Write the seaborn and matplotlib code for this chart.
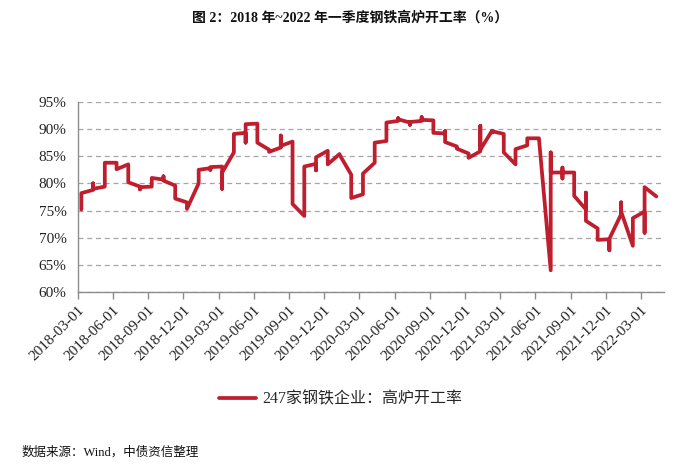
import matplotlib
matplotlib.use("Agg")
import matplotlib.pyplot as plt
import matplotlib.transforms as mtransforms
from matplotlib.lines import Line2D
import seaborn as sns
import pandas as pd

months = [
    "2018-03", "2018-04", "2018-05", "2018-06", "2018-07", "2018-08", "2018-09",
    "2018-10", "2018-11", "2018-12", "2019-01", "2019-02", "2019-03", "2019-04",
    "2019-05", "2019-06", "2019-07", "2019-08", "2019-09", "2019-10", "2019-11",
    "2019-12", "2020-01", "2020-02", "2020-03", "2020-04", "2020-05", "2020-06",
    "2020-07", "2020-08", "2020-09", "2020-10", "2020-11", "2020-12", "2021-01",
    "2021-02", "2021-03", "2021-04", "2021-05", "2021-06", "2021-07", "2021-08",
    "2021-09", "2021-10", "2021-11", "2021-12", "2022-01", "2022-02", "2022-03",
    "2022-04",
]
month_values = [
    [75.2, 77.0, 77.8, 78.2],
    [78.8, 80.0, 79.0],
    [79.4, 81.5, 83.6, 83.8],
    [83.8, 83.2, 82.6],
    [83.5, 82.0, 80.2],
    [79.4, 78.9, 79.3],
    [79.4, 80.2, 81.0],
    [80.7, 81.3, 80.5],
    [79.6, 78.4, 77.2],
    [76.5, 75.8, 75.3],
    [80.0, 81.5, 82.5],
    [82.8, 82.5, 83.0],
    [83.1, 79.0, 82.0],
    [85.7, 88.0, 89.1],
    [89.3, 87.5, 90.5, 90.9],
    [91.0, 89.0, 87.5],
    [86.2, 85.8],
    [86.6, 88.8, 86.9],
    [87.7, 80.0, 76.2],
    [74.0, 80.0, 83.1],
    [83.6, 82.4, 84.8],
    [86.0, 84.5, 83.5],
    [85.4, 85.3],
    [81.6, 79.0, 77.3],
    [78.0, 80.0, 81.8],
    [83.8, 85.5, 87.5],
    [87.8, 89.5, 91.2],
    [91.5, 92.0, 91.8],
    [91.2, 90.8, 91.3],
    [91.5, 92.2, 91.7],
    [91.6, 90.5, 89.3],
    [89.2, 89.6, 87.6],
    [86.8, 86.4],
    [85.5, 84.7],
    [85.9, 90.6, 86.2],
    [89.7, 89.4, 89.6],
    [89.1, 87.0, 85.7],
    [83.5, 85.0, 86.3],
    [87.0, 87.8, 88.3],
    [88.3, 88.3, 88.2],
    [64.0, 85.7, 82.0],
    [82.0, 82.9, 80.9, 82.0],
    [82.0, 79.5, 77.7],
    [75.2, 78.3, 73.1],
    [71.7, 70.5, 69.6],
    [69.7, 67.7, 69.8],
    [74.3, 76.5, 74.8],
    [68.5, 71.0, 73.6],
    [74.8, 70.9, 79.3],
    [77.6],
]
tick_labels = [
    "2018-03-01", "2018-06-01", "2018-09-01", "2018-12-01", "2019-03-01",
    "2019-06-01", "2019-09-01", "2019-12-01", "2020-03-01", "2020-06-01",
    "2020-09-01", "2020-12-01", "2021-03-01", "2021-06-01", "2021-09-01",
    "2021-12-01", "2022-03-01",
]
y_ticks = [60, 65, 70, 75, 80, 85, 90, 95]
series_label = "247家钢铁企业：高炉开工率"
title_text = "图 2：2018 年~2022 年一季度钢铁高炉开工率（%）"
source_text = "数据来源：Wind，中债资信整理"

# ---- build table ----
rows = [(m, v) for m, vals in zip(months, month_values) for v in vals]
df = pd.DataFrame(rows, columns=["month", "rate"])
per = pd.PeriodIndex(df["month"], freq="M")
df["pos"] = (per.year * 12 + per.month) - (per.year[0] * 12 + per.month[0])

# ---- style ----
sns.set_theme(style="white")
serif_cjk = ["Liberation Serif", "Noto Sans CJK SC"]
plt.rcParams["font.family"] = serif_cjk

RED = "#BE1E2D"
GRID = "#A6A6A6"
AXIS = "#8C8C8C"

fig = plt.figure(figsize=(7.0, 4.74), dpi=100)
ax = fig.add_axes([0.111, 0.384, 0.838, 0.401])

sns.lineplot(data=df, x="pos", y="rate", sort=False, estimator=None,
             ax=ax, color=RED, linewidth=2.7, legend=False)

ax.set_ylim(60, 95)
ax.set_yticks(y_ticks)
ax.set_yticklabels([f"{t}%" for t in y_ticks], fontsize=11)
ax.yaxis.grid(True, linestyle=(0, (4, 3)), color=GRID, linewidth=0.9)
ax.xaxis.grid(False)
ax.set_axisbelow(True)

tick_offset = -0.31
ax.set_xlim(tick_offset, 49.68)
ax.set_xticks([3 * i + tick_offset for i in range(len(tick_labels))])
ax.set_xticklabels(tick_labels, rotation=45, ha="right",
                   rotation_mode="anchor", fontsize=11)
shift = mtransforms.ScaledTranslation(9 / 100, 0, fig.dpi_scale_trans)
for lab in ax.get_xticklabels():
    lab.set_transform(lab.get_transform() + shift)

ax.set_xlabel("")
ax.set_ylabel("")
for s in ["top", "right"]:
    ax.spines[s].set_visible(False)
for s in ["left", "bottom"]:
    ax.spines[s].set_color(AXIS)
    ax.spines[s].set_linewidth(1.0)
ax.tick_params(axis="x", bottom=True, length=5, width=1.0, color=AXIS,
               direction="out", pad=3, labelcolor="#222222")
ax.tick_params(axis="y", left=False, length=0, pad=8, labelcolor="#222222")

fig.text(0.5, 0.962, title_text, ha="center", va="center", fontsize=10,
         fontweight="bold", family=serif_cjk, color="#111111")

handle = Line2D([], [], color=RED, linewidth=2.7)
fig.legend([handle], [series_label], loc="center",
           bbox_to_anchor=(0.487, 0.158), frameon=False, handlelength=2.3,
           handletextpad=0.4,
           prop={"family": ["Liberation Serif", "Noto Sans CJK SC"], "size": 11.5})

fig.text(0.031, 0.046, source_text, ha="left", va="center", fontsize=9,
         family=serif_cjk, color="#111111")

fig.savefig("out.png", dpi=100)
